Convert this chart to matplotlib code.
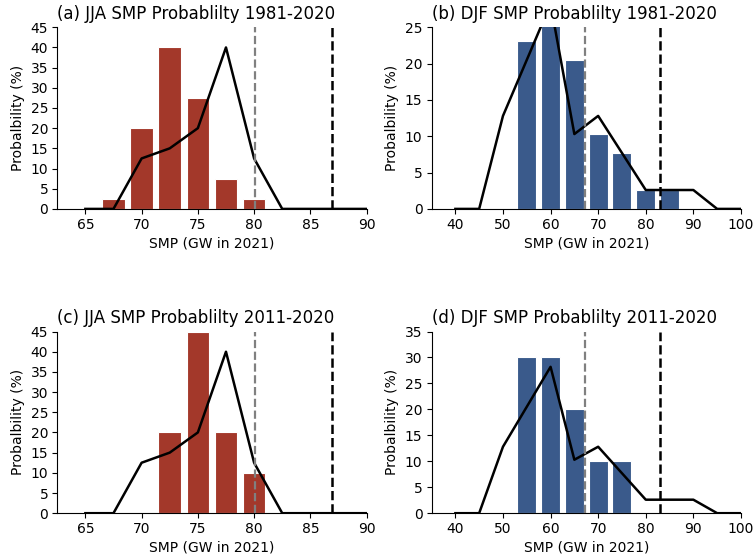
import numpy as np
import matplotlib
matplotlib.use("Agg")
import matplotlib.pyplot as plt

# -------------------------------
# Data
# -------------------------------

# JJA bins (GW), bin width 2.5
jja_bins = [67.5, 70, 72.5, 75, 77.5, 80]
jja_hist_1981 = [2.5, 20, 40, 27.5, 7.5, 2.5]
jja_hist_2011 = [0, 0, 20, 45, 20, 10]

jja_line_x = [65, 67.5, 70, 72.5, 75, 77.5, 80, 82.5, 85, 87.5, 90]
jja_line_y = [0, 0, 12.5, 15, 20, 40, 12.5, 0, 0, 0, 0]

jja_vline_grey = 80.1
jja_vline_black = 86.9

# DJF bins (GW), bin width 5
djf_bins = [55, 60, 65, 70, 75, 80, 85]
djf_hist_1981 = [23.1, 25.6, 20.5, 10.3, 7.7, 2.6, 2.6]
djf_hist_2011 = [30, 30, 20, 10, 10, 0, 0]

djf_line_x = [40, 45, 50, 55, 60, 65, 70, 75, 80, 85, 90, 95, 100]
djf_line_y = [0, 0, 12.8, 20.5, 28.2, 10.3, 12.8, 7.7, 2.6, 2.6, 2.6, 0, 0]

djf_vline_grey = 67.2
djf_vline_black = 82.9

titles = [
    "(a) JJA SMP Probablilty 1981-2020",
    "(b) DJF SMP Probablilty 1981-2020",
    "(c) JJA SMP Probablilty 2011-2020",
    "(d) DJF SMP Probablilty 2011-2020",
]

red = "#a3382a"
blue = "#3a5a8b"

# -------------------------------
# Figure
# -------------------------------

fig, axes = plt.subplots(2, 2, figsize=(7.53, 5.56), dpi=100)
plt.subplots_adjust(left=0.076, right=0.984, top=0.951, bottom=0.077,
                    wspace=0.21, hspace=0.675)


def draw_panel(ax, bins, hist, width, color, lx, ly, vg, vb,
               xlim, ylim, xticks, yticks, title):
    ax.bar(bins, hist, width=width, color=color,
           edgecolor="white", linewidth=0.8, zorder=2)
    ax.plot(lx, ly, color="black", lw=1.8, zorder=3)
    ax.axvline(vg, color="grey", ls="--", lw=1.6, zorder=4)
    ax.axvline(vb, color="black", ls="--", lw=1.8, zorder=4)
    ax.set_xlim(*xlim)
    ax.set_ylim(*ylim)
    ax.set_xticks(xticks)
    ax.set_yticks(yticks)
    ax.set_title(title, loc="left", fontsize=12)
    ax.set_xlabel("SMP (GW in 2021)", fontsize=10, labelpad=3)
    ax.set_ylabel("Probalbility (%)", fontsize=10)
    ax.spines["top"].set_visible(False)
    ax.spines["right"].set_visible(False)
    ax.tick_params(labelsize=10, pad=3)


jja_xticks = np.arange(65, 91, 5)
djf_xticks = np.arange(40, 101, 10)

draw_panel(axes[0, 0], jja_bins, jja_hist_1981, 2.0, red,
           jja_line_x, jja_line_y, jja_vline_grey, jja_vline_black,
           (62.5, 90), (0, 45), jja_xticks, np.arange(0, 46, 5), titles[0])

draw_panel(axes[0, 1], djf_bins, djf_hist_1981, 4.0, blue,
           djf_line_x, djf_line_y, djf_vline_grey, djf_vline_black,
           (35, 100), (0, 25), djf_xticks, np.arange(0, 26, 5), titles[1])

draw_panel(axes[1, 0], jja_bins, jja_hist_2011, 2.0, red,
           jja_line_x, jja_line_y, jja_vline_grey, jja_vline_black,
           (62.5, 90), (0, 45), jja_xticks, np.arange(0, 46, 5), titles[2])

draw_panel(axes[1, 1], djf_bins, djf_hist_2011, 4.0, blue,
           djf_line_x, djf_line_y, djf_vline_grey, djf_vline_black,
           (35, 100), (0, 35), djf_xticks, np.arange(0, 36, 5), titles[3])

fig.savefig("out.png", dpi=100)
